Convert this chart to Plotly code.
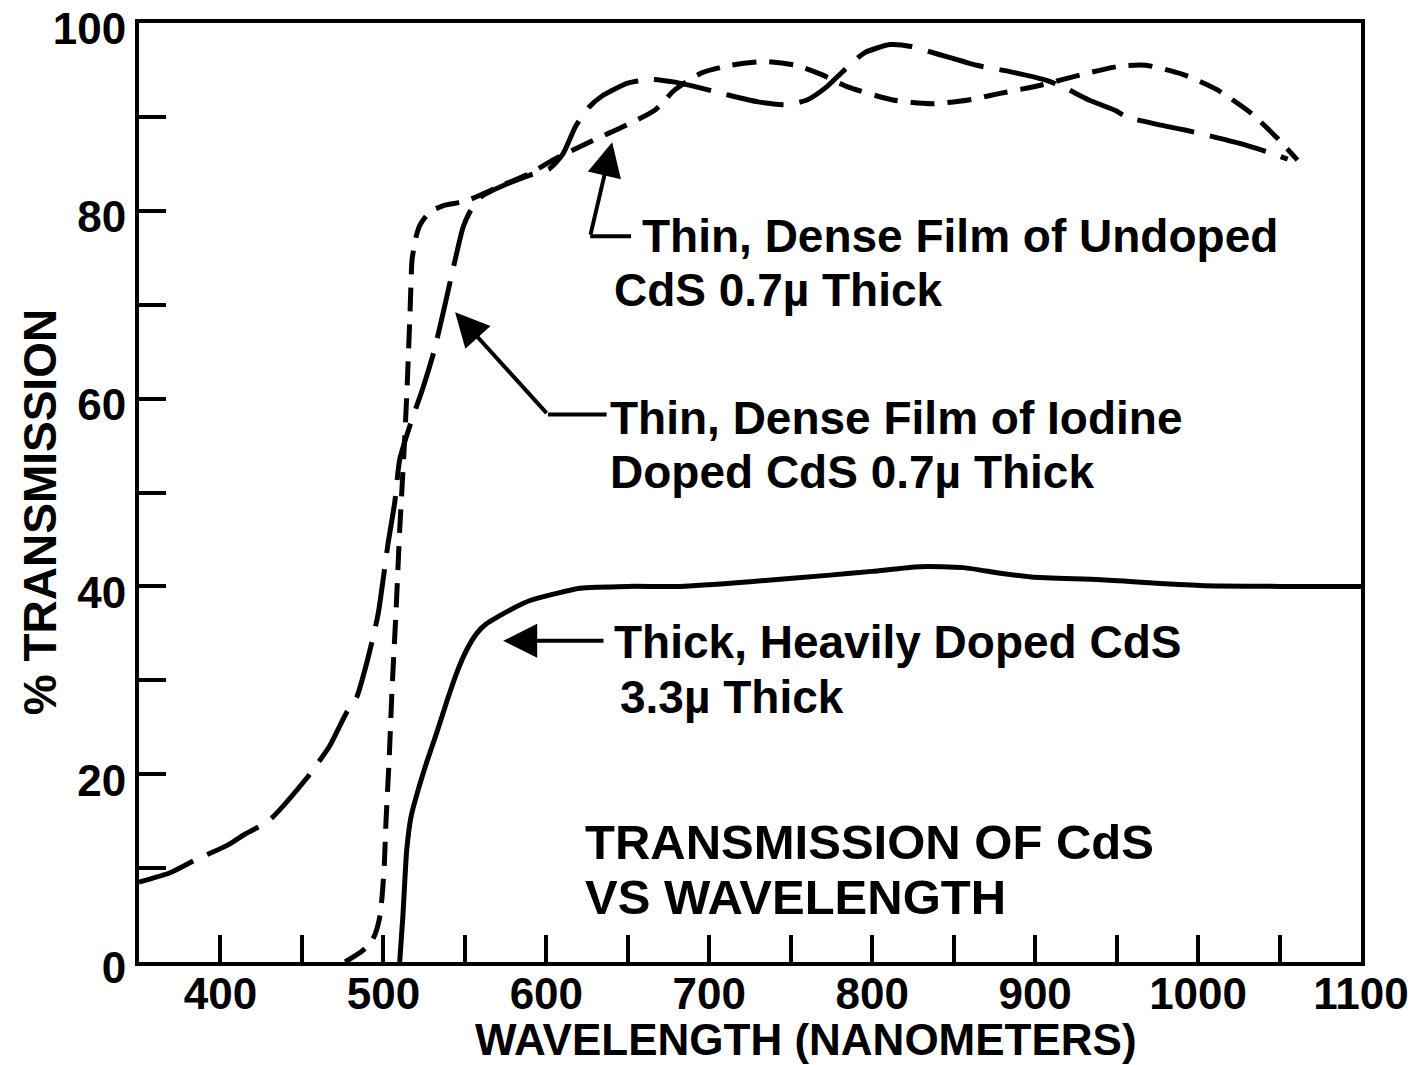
import plotly.graph_objects as go

# ---- data ----
heavy_wl = [510, 512, 514.3, 517, 521.3, 527, 532.7, 539, 545, 551, 557.3, 563, 569.6, 580, 590, 605,
            620.7, 650, 682, 725, 774, 800, 829, 856, 878.5, 897.6, 940, 1001, 1050, 1100]
heavy_t = [0, 5, 11.9, 15.5, 18.3, 21.5, 24.4, 27.8, 30.8, 33.2, 35, 36, 36.7, 37.7, 38.5, 39.2,
           39.8, 40, 40, 40.5, 41.2, 41.6, 42.1, 42, 41.4, 41, 40.7, 40.1, 40, 40]

iodine_wl = [350, 369, 385, 405, 414, 430, 453, 459, 467, 477.5, 483.6, 490, 496.7, 502.8, 507, 510,
             517, 524, 531, 537.8, 543, 549, 554, 560, 575, 590, 602, 610, 618, 626, 634, 650, 665,
             679, 692, 710, 730, 747, 760, 772, 780, 795, 811, 824, 840, 856, 864, 885, 907, 917,
             933, 949, 956, 975, 992, 1009, 1025, 1044, 1055]
iodine_t = [8.5, 9.5, 10.9, 12.5, 13.5, 15.1, 19.6, 21, 23, 26.6, 28.2, 32, 37, 44.5, 49, 53.5,
            57.5, 61, 65, 70, 74, 78.3, 80.2, 81.5, 82.8, 83.8, 84.5, 86, 89, 91, 92.2, 93.6, 94,
            93.7, 93.2, 92.4, 91.6, 91.3, 91.8, 93.2, 94.5, 96.8, 97.7, 97.5, 96.7, 95.9, 95.5, 94.8,
            93.9, 93.2, 91.8, 90.7, 90, 89.2, 88.6, 87.9, 87.2, 86.2, 85.5]

undoped_wl = [476.5, 485.7, 492, 495, 498, 500.4, 501.6, 503.5, 505.3, 507.8, 510, 512.7, 514.5,
              516.4, 517.6, 520, 522.5, 528.6, 537.8, 550, 570, 590, 605, 625, 649, 666.5, 679,
              695.5, 713, 734, 753, 769, 785, 812.6, 836.7, 859, 878.5, 904, 933, 952, 968, 991,
              1011.6, 1032.5, 1050, 1061]
undoped_t = [0, 1, 2, 3, 5, 9.8, 15, 21.5, 29, 37.5, 46, 54.5, 61, 69.4, 74.8, 77.2, 78.5, 79.9,
             80.6, 81, 82.5, 84, 85.5, 87.2, 89.1, 90.7, 92.9, 94.7, 95.5, 95.9, 95.5, 94.5, 93.2,
             91.8, 91.4, 91.8, 92.5, 93.4, 94.7, 95.4, 95.5, 94.5, 92.9, 90.4, 87.5, 85.4]

x_ticks = list(range(350, 1101, 50))
x_labels = [str(v) if v % 100 == 0 and v != 350 else "" for v in x_ticks]
y_ticks = list(range(0, 101, 10))
y_labels = [str(v) if v % 20 == 0 else "" for v in y_ticks]

FONT = "Liberation Sans, Arial, sans-serif"

fig = go.Figure()
fig.add_trace(go.Scatter(x=heavy_wl, y=heavy_t, mode="lines",
                         line=dict(color="black", width=5, shape="spline", smoothing=0.6)))
fig.add_trace(go.Scatter(x=iodine_wl, y=iodine_t, mode="lines",
                         line=dict(color="black", width=5, dash="58px,16px", shape="spline", smoothing=0.6)))
fig.add_trace(go.Scatter(x=undoped_wl, y=undoped_t, mode="lines",
                         line=dict(color="black", width=5, dash="24px,13px", shape="spline", smoothing=0.6)))

tf = dict(family=FONT, size=46, color="black", weight="bold")
tf_big = dict(family=FONT, size=49, color="black", weight="bold")
texts = [
    (657.5, 77.3, "Thin, Dense Film of Undoped", tf),
    (640.4, 71.6, "CdS 0.7\u00b5 Thick", tf),
    (638, 57.9, "Thin, Dense Film of Iodine", tf),
    (638, 52.2, "Doped CdS 0.7\u00b5 Thick", tf),
    (640.4, 34.1, "Thick, Heavily Doped CdS", tf),
    (644, 28.2, "3.3\u00b5 Thick", tf),
    (622.6, 12.8, "TRANSMISSION OF CdS", tf_big),
    (622.6, 6.9, "VS WAVELENGTH", tf_big),
]
annotations = []
for x, y, t, f in texts:
    annotations.append(dict(x=x, y=y, xref="x", yref="y", text=t, showarrow=False,
                            xanchor="left", yanchor="middle", font=f))

arrows = [((626.9, 77.3), (640.4, 87.3)),
          ((601, 58.3), (544, 69.2)),
          ((636, 34.2), (573.5, 34.2))]
for (x0, y0), (x1, y1) in arrows:
    annotations.append(dict(x=x1, y=y1, ax=x0, ay=y0, xref="x", yref="y", axref="x", ayref="y",
                            text="", showarrow=True, arrowhead=2, arrowsize=1.7, arrowwidth=4,
                            arrowcolor="black"))

# axis titles
annotations.append(dict(x=0.546, y=-0.083, xref="paper", yref="paper", showarrow=False,
                        text="WAVELENGTH (NANOMETERS)", xanchor="center", yanchor="middle",
                        font=dict(family=FONT, size=44, color="black", weight="bold")))
annotations.append(dict(x=-0.081, y=0.479, xref="paper", yref="paper", showarrow=False,
                        text="% TRANSMISSION", textangle=-90, xanchor="center", yanchor="middle",
                        font=dict(family=FONT, size=46, color="black", weight="bold")))

shapes = [
    dict(type="line", xref="x", yref="y", x0=626.9, y0=77.3, x1=652, y1=77.3,
         line=dict(color="black", width=4)),
    dict(type="line", xref="x", yref="y", x0=601, y0=58.3, x1=637, y1=58.3,
         line=dict(color="black", width=4)),
]

fig.update_layout(
    width=1425, height=1065,
    margin=dict(l=139, r=64, t=23, b=103),
    paper_bgcolor="white", plot_bgcolor="white",
    showlegend=False,
    annotations=annotations, shapes=shapes,
    font=dict(family=FONT, color="black"),
)
axis_common = dict(ticks="inside", ticklen=27, tickwidth=4, tickcolor="black",
                   showline=True, linewidth=4, linecolor="black", mirror=True,
                   showgrid=False, zeroline=False, automargin=False,
                   ticklabeloverflow="allow",
                   tickfont=dict(family=FONT, size=44, color="black", weight="bold"))
fig.update_xaxes(range=[350, 1100], tickvals=x_ticks, ticktext=x_labels,
                 ticklabelstandoff=-10, **axis_common)
fig.update_yaxes(range=[0, 100], tickvals=y_ticks, ticktext=y_labels,
                 ticklabelshift=6, **axis_common)

fig.write_html("out.html", config={"displayModeBar": False},
               post_script="document.body.style.margin='0px';")
